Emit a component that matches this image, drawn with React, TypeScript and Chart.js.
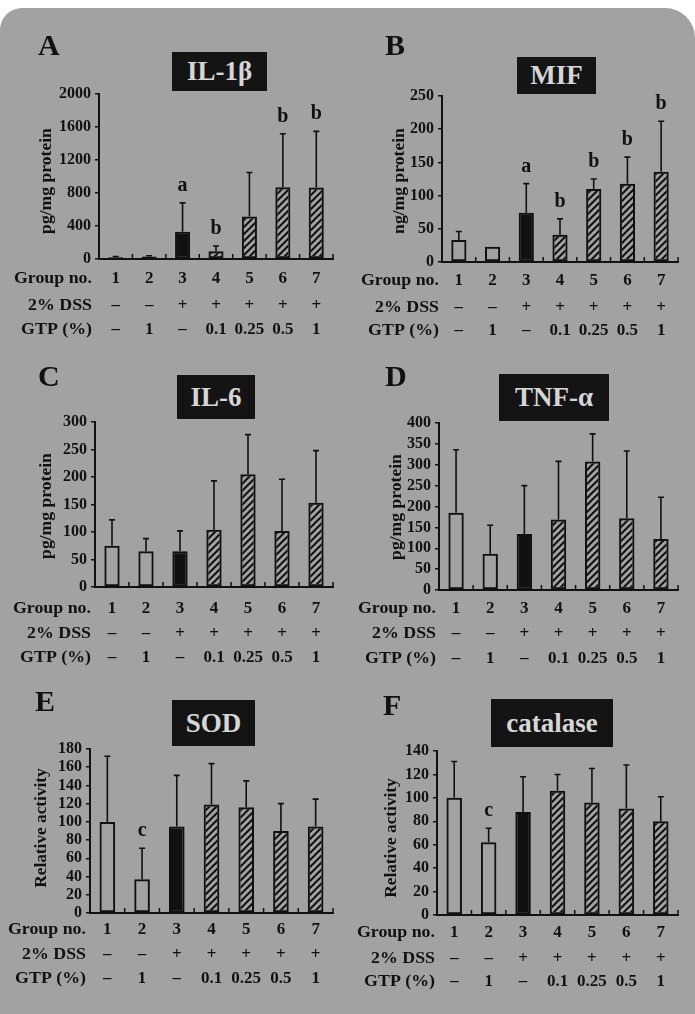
import React, { useEffect, useRef } from "react";
import { Chart, registerables } from "chart.js";
Chart.register(...registerables);

// ---------- data ----------
const groups = ["1", "2", "3", "4", "5", "6", "7"];
const dssRow = ["–", "–", "+", "+", "+", "+", "+"];
const gtpRow = ["–", "1", "–", "0.1", "0.25", "0.5", "1"];
const rowLabels = ["Group no.", "2% DSS", "GTP (%)"];

const il1bMean = [20, 30, 330, 93, 514, 871, 867];
const il1bSD = [10, 10, 350, 65, 535, 648, 680];
const il1bSig = ["", "", "a", "b", "", "b", "b"];

const mifMean = [33, 23, 74, 41, 110, 118, 136];
const mifSD = [13, 0, 44, 24, 15, 40, 76];
const mifSig = ["", "", "a", "b", "b", "b", "b"];

const il6Mean = [75, 65, 65, 104, 205, 102, 153];
const il6SD = [47, 23, 37, 89, 72, 94, 95];
const il6Sig = ["", "", "", "", "", "", ""];

const tnfMean = [185, 87, 134, 169, 308, 172, 122];
const tnfSD = [151, 68, 116, 139, 66, 161, 100];
const tnfSig = ["", "", "", "", "", "", ""];

const sodMean = [100, 37, 95, 119, 116, 90, 95];
const sodSD = [72, 34, 56, 45, 29, 30, 30];
const sodSig = ["", "c", "", "", "", "", ""];

const catMean = [100, 62, 88, 106, 96, 91, 80];
const catSD = [31, 12, 30, 14, 29, 37, 21];
const catSig = ["", "c", "", "", "", "", ""];

// ---------- layout ----------
const FONT = "'Liberation Serif', 'Times New Roman', serif";
const INK = "#111";
const BG = "#a2a2a2";

type Panel = {
  letter: string; title: string; mean: number[]; sd: number[]; sig: string[];
  max: number; step: number; yTitle: string; yStretch: number;
  cv: { left: number; top: number; width: number; height: number };
  axisX: number; right: number; yMaxPx: number; y0: number;
  titleX: number; titleY: number; rowDy: number[]; labelDx: number;
  letterPos: { left: number; top: number };
  box: { left: number; top: number; width: number; height: number };
};

const panels: Panel[] = [
  {
    letter: "A", title: "IL-1β", mean: il1bMean, sd: il1bSD, sig: il1bSig, max: 2000, step: 400,
    yTitle: "pg/mg protein", yStretch: 1.1,
    cv: { left: 0, top: 30, width: 345, height: 320 },
    axisX: 99, right: 333, yMaxPx: 94, y0: 259, titleX: 47, titleY: 181,
    rowDy: [20, 47, 71], labelDx: -7,
    letterPos: { left: 38, top: 30 }, box: { left: 172, top: 52, width: 95, height: 39 },
  },
  {
    letter: "B", title: "MIF", mean: mifMean, sd: mifSD, sig: mifSig, max: 250, step: 50,
    yTitle: "ng/mg protein", yStretch: 1.1,
    cv: { left: 345, top: 30, width: 350, height: 320 },
    axisX: 442, right: 678, yMaxPx: 96, y0: 262, titleX: 400, titleY: 181,
    rowDy: [19, 46, 69], labelDx: -3,
    letterPos: { left: 385, top: 30 }, box: { left: 517, top: 57, width: 79, height: 37 },
  },
  {
    letter: "C", title: "IL-6", mean: il6Mean, sd: il6SD, sig: il6Sig, max: 300, step: 50,
    yTitle: "pg/mg protein", yStretch: 1.1,
    cv: { left: 0, top: 355, width: 345, height: 320 },
    axisX: 95, right: 333, yMaxPx: 422, y0: 587, titleX: 47, titleY: 506,
    rowDy: [22, 47, 71], labelDx: -4,
    letterPos: { left: 38, top: 361 }, box: { left: 177, top: 375, width: 78, height: 44 },
  },
  {
    letter: "D", title: "TNF-α", mean: tnfMean, sd: tnfSD, sig: tnfSig, max: 400, step: 50,
    yTitle: "pg/mg protein", yStretch: 1.1,
    cv: { left: 345, top: 355, width: 350, height: 320 },
    axisX: 439, right: 678, yMaxPx: 423, y0: 590, titleX: 397, titleY: 507,
    rowDy: [19, 44, 69], labelDx: -3,
    letterPos: { left: 385, top: 361 }, box: { left: 499, top: 374, width: 110, height: 47 },
  },
  {
    letter: "E", title: "SOD", mean: sodMean, sd: sodSD, sig: sodSig, max: 180, step: 20,
    yTitle: "Relative activity", yStretch: 1.08,
    cv: { left: 0, top: 680, width: 345, height: 334 },
    axisX: 90, right: 333, yMaxPx: 749, y0: 913, titleX: 42, titleY: 828,
    rowDy: [17, 42, 66], labelDx: -4,
    letterPos: { left: 35, top: 686 }, box: { left: 172, top: 700, width: 83, height: 46 },
  },
  {
    letter: "F", title: "catalase", mean: catMean, sd: catSD, sig: catSig, max: 140, step: 20,
    yTitle: "Relative activity", yStretch: 1.08,
    cv: { left: 345, top: 680, width: 350, height: 334 },
    axisX: 437, right: 678, yMaxPx: 751, y0: 915, titleX: 392, titleY: 838,
    rowDy: [18, 44, 67], labelDx: -2,
    letterPos: { left: 383, top: 690 }, box: { left: 491, top: 699, width: 122, height: 48 },
  },
];

function makeHatch(): CanvasPattern | string {
  const s = 7;
  const c = document.createElement("canvas");
  c.width = s; c.height = s;
  const g = c.getContext("2d");
  if (!g) return INK;
  g.strokeStyle = INK;
  g.lineWidth = 2;
  g.beginPath();
  g.moveTo(-1, s + 1); g.lineTo(s + 1, -1);
  g.moveTo(-1, 1); g.lineTo(1, -1);
  g.moveTo(s - 1, s + 1); g.lineTo(s + 1, s - 1);
  g.stroke();
  const p = g.createPattern(c, "repeat");
  return p || INK;
}

function extrasPlugin(p: Panel) {
  return {
    id: "extras" + p.letter,
    afterDatasetsDraw(chart: any) {
      const ctx = chart.ctx as CanvasRenderingContext2D;
      const xs = chart.scales.x;
      const ys = chart.scales.y;
      const area = chart.chartArea;
      const ox = p.cv.left, oy = p.cv.top;
      ctx.save();
      ctx.strokeStyle = INK;
      ctx.fillStyle = INK;
      // error bars + significance letters
      p.mean.forEach((m, i) => {
        const px = xs.getPixelForValue(i);
        const yb = ys.getPixelForValue(m);
        const yt = ys.getPixelForValue(m + p.sd[i]);
        if (p.sd[i] > 0) {
          ctx.lineWidth = 1.6;
          ctx.beginPath();
          ctx.moveTo(px, yb); ctx.lineTo(px, yt);
          ctx.moveTo(px - 3, yt); ctx.lineTo(px + 3, yt);
          ctx.stroke();
        }
        if (p.sig[i]) {
          ctx.font = `bold 20px ${FONT}`;
          ctx.textAlign = "center";
          ctx.textBaseline = "alphabetic";
          ctx.fillText(p.sig[i], px, Math.min(yt, yb) - 12);
        }
      });
      // small x-axis ticks between categories (pointing up)
      const half = (xs.getPixelForValue(1) - xs.getPixelForValue(0)) / 2;
      ctx.lineWidth = 1.5;
      ctx.beginPath();
      for (let i = 0; i < groups.length; i++) {
        const bx = xs.getPixelForValue(i) + half;
        ctx.moveTo(bx, area.bottom); ctx.lineTo(bx, area.bottom - 5);
      }
      ctx.stroke();
      // rows below axis
      const rows = [groups, dssRow, gtpRow];
      rows.forEach((vals, r) => {
        const y = p.y0 + p.rowDy[r] - oy;
        ctx.font = `bold 17px ${FONT}`;
        ctx.textBaseline = "middle";
        ctx.save();
        ctx.translate(p.axisX + p.labelDx - ox, y);
        ctx.scale(1.05, 1);
        ctx.textAlign = "right";
        ctx.fillText(rowLabels[r], 0, 0);
        ctx.restore();
        ctx.textAlign = "center";
        vals.forEach((v, i) => ctx.fillText(v, xs.getPixelForValue(i), y));
      });
      // y title
      ctx.save();
      ctx.translate(p.titleX - ox, p.titleY - oy);
      ctx.rotate(-Math.PI / 2);
      ctx.scale(p.yStretch, 1);
      ctx.font = `bold 16px ${FONT}`;
      ctx.textAlign = "center";
      ctx.textBaseline = "middle";
      ctx.fillText(p.yTitle, 0, 0);
      ctx.restore();
      ctx.restore();
    },
  };
}

function PanelChart({ p }: { p: Panel }) {
  const ref = useRef<HTMLCanvasElement | null>(null);
  useEffect(() => {
    if (!ref.current) return;
    const hatch = makeHatch();
    const fills = p.mean.map((_, i) => (i < 2 ? "rgba(0,0,0,0)" : i === 2 ? INK : hatch));
    const chart = new Chart(ref.current, {
      type: "bar",
      data: {
        labels: groups,
        datasets: [
          {
            data: p.mean,
            backgroundColor: fills as any,
            borderColor: INK,
            borderWidth: 2,
            borderSkipped: false,
            barPercentage: 0.45,
            categoryPercentage: 1,
          },
        ],
      },
      options: {
        responsive: false,
        animation: false,
        devicePixelRatio: 1,
        layout: {
          padding: {
            left: 0,
            top: p.yMaxPx - p.cv.top,
            right: p.cv.left + p.cv.width - p.right,
            bottom: 0,
          },
        },
        plugins: { legend: { display: false }, tooltip: { enabled: false }, title: { display: false } },
        scales: {
          x: {
            type: "category",
            offset: true,
            grid: { display: false },
            ticks: { display: false },
            border: { display: true, color: INK, width: 2 },
            afterFit: (s: any) => { s.height = p.cv.top + p.cv.height - p.y0; },
          },
          y: {
            min: 0,
            max: p.max,
            ticks: {
              stepSize: p.step,
              autoSkip: false,
              color: INK,
              padding: 4,
              font: { family: FONT, size: 16, weight: "bold" },
              callback: (v: any) => String(v),
            },
            grid: { display: true, drawOnChartArea: false, drawTicks: true, tickLength: 4, color: INK, lineWidth: 1.5 },
            border: { display: true, color: INK, width: 2 },
            afterFit: (s: any) => { s.width = p.axisX - p.cv.left; },
          },
        },
      } as any,
      plugins: [extrasPlugin(p)],
    });
    return () => chart.destroy();
  }, [p]);
  return (
    <canvas
      ref={ref}
      width={p.cv.width}
      height={p.cv.height}
      style={{ position: "absolute", left: p.cv.left, top: p.cv.top, width: p.cv.width, height: p.cv.height }}
    />
  );
}

export default function App() {
  return (
    <div style={{ position: "absolute", left: 0, top: 0, width: 695, height: 1014, background: "#fff", overflow: "hidden" }}>
      <div
        style={{
          position: "absolute", left: 0, top: 8, width: 695, height: 1006, background: BG,
          borderTopLeftRadius: 22, borderTopRightRadius: 30,
        }}
      />
      {panels.map((p) => (
        <PanelChart key={p.letter} p={p} />
      ))}
      {panels.map((p) => (
        <div
          key={"l" + p.letter}
          style={{
            position: "absolute", left: p.letterPos.left, top: p.letterPos.top, fontFamily: FONT,
            fontWeight: "bold", fontSize: 30, lineHeight: "30px", color: INK,
          }}
        >
          {p.letter}
        </div>
      ))}
      {panels.map((p) => (
        <div
          key={"b" + p.letter}
          style={{
            position: "absolute", left: p.box.left, top: p.box.top, width: p.box.width, height: p.box.height,
            background: "#141414", color: "#d6d6d6", fontFamily: FONT, fontWeight: "bold", fontSize: 27,
            display: "flex", alignItems: "center", justifyContent: "center", whiteSpace: "nowrap",
          }}
        >
          {p.title}
        </div>
      ))}
    </div>
  );
}
